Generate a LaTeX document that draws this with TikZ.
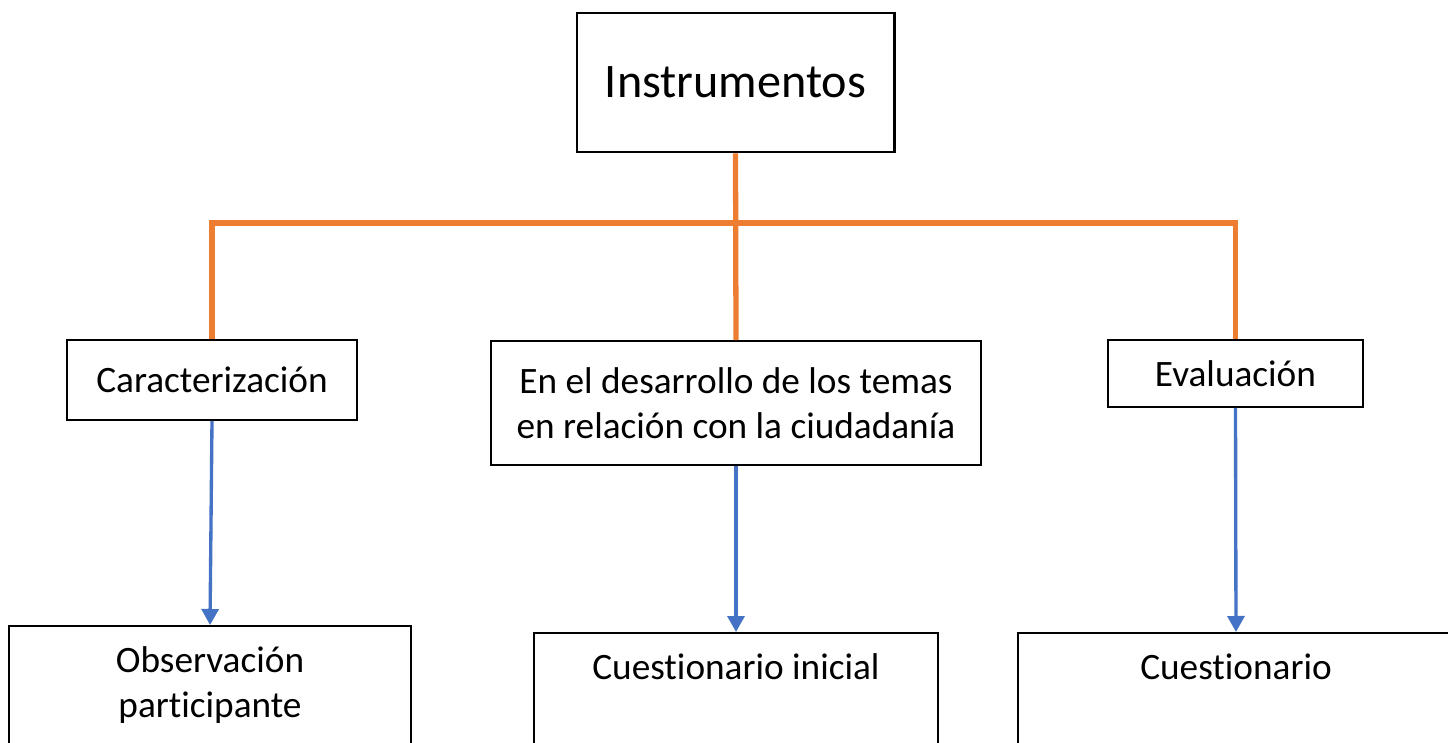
\documentclass[tikz,border=0pt]{standalone}
\usepackage{fontspec}
\setmainfont{Carlito}[Ligatures=NoCommon]
\usepackage[HTML]{xcolor}
\usetikzlibrary{positioning, arrows.meta}
\definecolor{barorange}{HTML}{ED7D31}
\definecolor{arrowblue}{HTML}{4472C4}

\begin{document}
\begin{tikzpicture}[x=0.01cm, y=-0.01cm,
  box/.style={draw, line width=0.5pt, align=center, inner sep=0pt,
    font=\fontsize{10.6}{12.8}\selectfont},
  leaf/.style={box, anchor=north, inner ysep=0.21cm, text depth=1.6cm},
  link/.style={barorange, line width=1.5pt},
  arrow/.style={arrowblue, line width=0.95pt, -{Triangle[width=0.17cm, length=0.16cm]}}]
\useasboundingbox (0,0) rectangle (1448,742);
% root
\node[box, line width=0.8pt, minimum width=3.17cm, minimum height=1.39cm,
  font=\fontsize{13.7}{17}\selectfont] (root) at (735.5,82.5) {Instrumentos};
% second level
\node[box, minimum width=2.90cm, minimum height=0.80cm] (cara) at (212,380) {Caracterización};
\node[box, minimum width=4.90cm, minimum height=1.24cm] (temas) at (736,403)
  {En el desarrollo de los temas\\en relación con la ciudadanía};
\node[box, minimum width=2.55cm, minimum height=0.67cm] (eval) at (1235.5,373.5) {Evaluación};
% bottom level (cut by the page)
\node[leaf, minimum width=4.02cm] (obs) at (210,625) {Observación\\participante};
\node[leaf, minimum width=4.04cm] (inicial) at (736,632) {Cuestionario inicial};
\node[leaf, minimum width=4.36cm] (cuest) at (1236,632) {Cuestionario};
% orange bracket
\coordinate (bar) at (736,223);
\draw[link] (root.south) -- (temas.north);
\draw[link] (cara.north) |- (bar) -| (eval.north);
% blue arrows
\draw[arrow] (cara.south) -- (obs.north);
\draw[arrow] (temas.south) -- (inicial.north);
\draw[arrow] (eval.south) -- (cuest.north);
\end{tikzpicture}
\end{document}
